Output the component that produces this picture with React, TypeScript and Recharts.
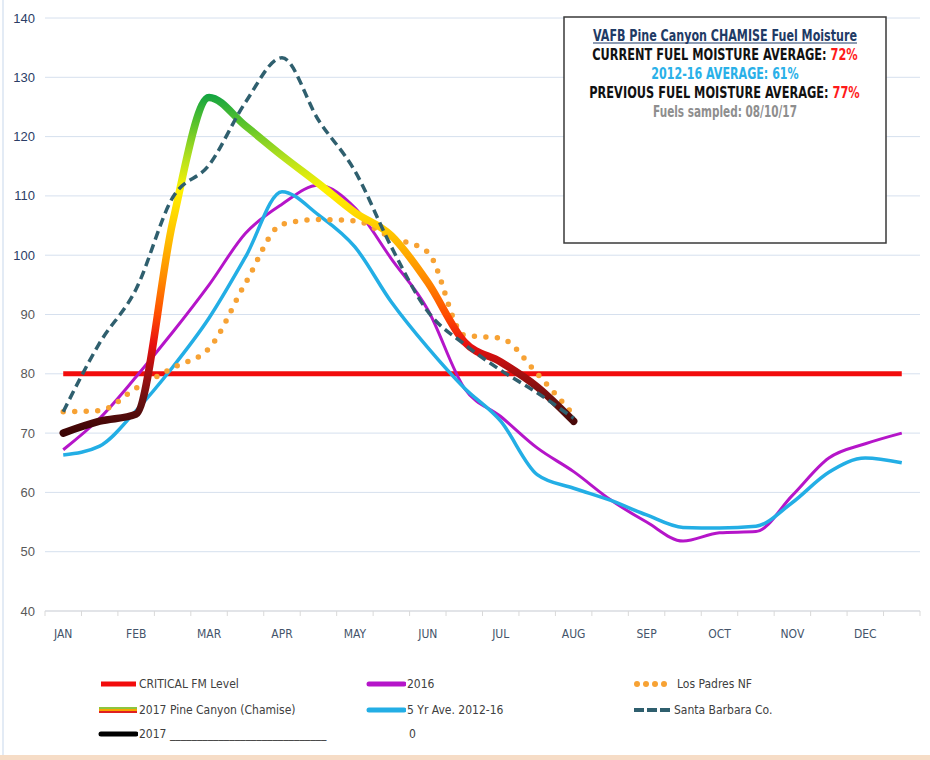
import { useLayoutEffect, useRef, useState } from 'react'
import { LineChart, Line, XAxis, YAxis, CartesianGrid, Legend } from 'recharts'

// half-month steps, JAN .. DEC (24 points)
const months = ['JAN', 'FEB', 'MAR', 'APR', 'MAY', 'JUN', 'JUL', 'AUG', 'SEP', 'OCT', 'NOV', 'DEC']
const yTicks = [40, 50, 60, 70, 80, 90, 100, 110, 120, 130, 140]

const criticalFm = [80, 80, 80, 80, 80, 80, 80, 80, 80, 80, 80, 80, 80, 80, 80, 80, 80, 80, 80, 80, 80, 80, 80, 80]
const year2016 = [67.2, 72.5, 79.5, 87, 95, 103.7, 108.6, 111.8, 108, 99.4, 90.8, 77.6, 72.8, 67.5, 63.5, 58.8, 55, 51.8, 53.2, 53.4, 59.5, 65.8, 68.2, 70]
const fiveYrAvg = [66.3, 67.8, 73.8, 81.1, 89.4, 99.7, 110.7, 106.8, 101.4, 92.1, 84.4, 77.6, 72, 63, 60.7, 58.7, 56.2, 54.1, 54, 54.3, 58.3, 63.4, 65.8, 65]
const losPadres = [73.6, 73.8, 77.6, 81, 84.3, 95.3, 105.2, 106, 105.8, 103, 100.5, 86.5, 86, 80, 73]
const santaBarbara = [73.6, 85.2, 94.3, 109.7, 115.2, 125.8, 133.3, 122.8, 114.2, 101.4, 90.5, 85, 80.6, 76.8, 72.5]
const pine2017 = [70, 72, 73.2, 105.5, 126.6, 121.8, 116.8, 112.1, 107.2, 103.3, 95.4, 85.4, 82, 77.8, 72]

const chartData = criticalFm.map((c, i) => ({
  idx: i,
  critical: c,
  y2016: year2016[i],
  avg5: fiveYrAvg[i],
  losPadres: losPadres[i] ?? null,
  santaBarbara: santaBarbara[i] ?? null,
  pine: pine2017[i] ?? null,
}))

const W = 930
const H = 760
const TOP = 18
const LEFT = 45
const RIGHT = 10
const PLOT_W = W - LEFT - RIGHT
const PLOT_H = 593
const STEP = PLOT_W / 24

const NARROW = '"Liberation Sans Narrow", "Arial Narrow", "DejaVu Sans Condensed", Arial, sans-serif'

const yPix = (v: number) => TOP + ((140 - v) * PLOT_H) / 100

// colour ramp of the 2017 line, by value
const pineStops: [number, string][] = [
  [127, '#14a441'],
  [122, '#5cc42b'],
  [116, '#b8e21c'],
  [111, '#fff200'],
  [103, '#ffc000'],
  [96, '#ff8a00'],
  [90, '#ff4d00'],
  [85, '#e81010'],
  [80, '#a51010'],
  [75, '#621010'],
  [70, '#3c0505'],
]

function MonthTick(props: any) {
  const { x, y, payload } = props
  const i = payload.value as number
  return (
    <g>
      <line x1={x - STEP / 2} x2={x - STEP / 2} y1={y - 8} y2={y - 3} stroke="#d9d9d9" />
      {i === 23 && <line x1={x + STEP / 2} x2={x + STEP / 2} y1={y - 8} y2={y - 3} stroke="#d9d9d9" />}
      {i % 2 === 0 && (
        <text x={x} y={y} dy={19} textAnchor="middle" fill="#44546a" fontSize={12} fontFamily={NARROW}>
          {months[i / 2]}
        </text>
      )}
    </g>
  )
}

function ValueTick(props: any) {
  const { x, y, payload } = props
  return (
    <text x={x} y={y} dy={4.5} textAnchor="end" fill={payload.value >= 100 ? '#2b3d66' : '#595959'} fontSize={13} fontFamily="Arial, sans-serif">
      {payload.value}
    </text>
  )
}

type LegendKind = 'critical' | 'y2016' | 'losPadres' | 'pine' | 'avg5' | 'santaBarbara' | 'y2017' | 'none'
const legendItems: { label: string; kind: LegendKind; col: number; row: number }[] = [
  { label: 'CRITICAL FM Level', kind: 'critical', col: 0, row: 0 },
  { label: '2016', kind: 'y2016', col: 1, row: 0 },
  { label: 'Los Padres NF', kind: 'losPadres', col: 2, row: 0 },
  { label: '2017 Pine Canyon (Chamise)', kind: 'pine', col: 0, row: 1 },
  { label: '5 Yr Ave. 2012-16', kind: 'avg5', col: 1, row: 1 },
  { label: 'Santa Barbara Co.', kind: 'santaBarbara', col: 2, row: 1 },
  { label: '2017 _____________________________', kind: 'y2017', col: 0, row: 2 },
  { label: '0', kind: 'none', col: 1, row: 2 },
]
const legendCols = [98, 366, 633]
const legendRows = [12, 38, 62]

function Marker({ kind }: { kind: LegendKind }) {
  if (kind === 'none') return null
  if (kind === 'pine')
    return (
      <svg width={40} height={10}>
        <rect x={1} y={2} width={38} height={2} fill="#8dc63f" />
        <rect x={1} y={4} width={38} height={2} fill="#f7a600" />
        <rect x={1} y={6} width={38} height={2} fill="#e02020" />
      </svg>
    )
  if (kind === 'losPadres')
    return (
      <svg width={40} height={10}>
        {[4, 13, 22, 31].map((cx) => (
          <circle key={cx} cx={cx} cy={5} r={3} fill="#f7a234" />
        ))}
      </svg>
    )
  if (kind === 'santaBarbara')
    return (
      <svg width={40} height={10}>
        <line x1={1} x2={40} y1={5} y2={5} stroke="#2f5f6e" strokeWidth={4} strokeDasharray="10 3" />
      </svg>
    )
  const color = { critical: '#f20c0c', y2016: '#b515c9', avg5: '#23aee5', y2017: '#000000' }[kind]
  return (
    <svg width={40} height={10}>
      <line x1={3} x2={38} y1={5} y2={5} stroke={color} strokeWidth={5} strokeLinecap={kind === 'critical' ? 'butt' : 'round'} />
    </svg>
  )
}

function renderLegend() {
  return (
    <div style={{ position: 'relative', width: W, height: 80 }}>
      {legendItems.map((it) => (
        <div
          key={it.label}
          style={{
            position: 'absolute',
            left: legendCols[it.col],
            top: legendRows[it.row] - 7,
            display: 'flex',
            alignItems: 'center',
            height: 14,
            fontFamily: NARROW,
            fontSize: 12,
            color: '#404040',
            whiteSpace: 'pre',
          }}
        >
          {it.kind === 'none' ? <span style={{ width: 42 }} /> : <Marker kind={it.kind} />}
          <span style={{ marginLeft: it.kind === 'losPadres' ? 4 : 1 }}>{it.label}</span>
        </div>
      ))}
    </div>
  )
}

// one centred line of the info box, squeezed horizontally to the width it has in the picture
function FitLine({ cx, y, width, fill, children }: { cx: number; y: number; width: number; fill: string; children: any }) {
  const ref = useRef<SVGTextElement>(null)
  const [sx, setSx] = useState(1)
  useLayoutEffect(() => {
    if (ref.current) {
      const w = ref.current.getBBox().width
      if (w > 0) setSx(width / w)
    }
  }, [width])
  return (
    <g transform={`translate(${cx} ${y}) scale(${sx} 1)`}>
      <text ref={ref} x={0} y={0} textAnchor="middle" fontFamily={NARROW} fontWeight="bold" fontSize={15} fill={fill}>
        {children}
      </text>
    </g>
  )
}

function InfoBox() {
  return (
    <svg width={W} height={H} style={{ position: 'absolute', left: 0, top: 0, pointerEvents: 'none' }}>
      <rect x={564} y={17} width={322} height={226} fill="#ffffff" stroke="#3a3a3a" strokeWidth={1.5} />
      <FitLine cx={725} y={41} width={264} fill="#1f3b66">
        VAFB Pine Canyon CHAMISE Fuel Moisture
      </FitLine>
      <line x1={593} x2={857} y1={43} y2={43} stroke="#1f3b66" strokeWidth={1.2} />
      <FitLine cx={725} y={60} width={266} fill="#111111">
        CURRENT FUEL MOISTURE AVERAGE: <tspan fill="#ff1a1a">72%</tspan>
      </FitLine>
      <FitLine cx={725} y={79} width={148} fill="#29b0e8">
        2012-16 AVERAGE: 61%
      </FitLine>
      <FitLine cx={724.5} y={98} width={271} fill="#111111">
        PREVIOUS FUEL MOISTURE AVERAGE: <tspan fill="#ff1a1a">77%</tspan>
      </FitLine>
      <FitLine cx={725} y={117} width={144} fill="#8e8e8e">
        Fuels sampled: 08/10/17
      </FitLine>
    </svg>
  )
}

export default function App() {
  return (
    <div style={{ position: 'absolute', left: 0, top: 0, width: W, height: H, background: '#ffffff', overflow: 'hidden' }}>
      <LineChart width={W} height={H} data={chartData} margin={{ top: TOP, right: RIGHT, bottom: 119, left: 0 }}>
        <defs>
          <linearGradient id="pineGrad" gradientUnits="userSpaceOnUse" x1={0} y1={yPix(127)} x2={0} y2={yPix(70)}>
            {pineStops.map(([v, c]) => (
              <stop key={v} offset={(127 - v) / 57} stopColor={c} />
            ))}
          </linearGradient>
        </defs>
        <CartesianGrid vertical={false} stroke="#d6e0ee" strokeWidth={1} />
        <XAxis
          dataKey="idx"
          type="number"
          domain={[-0.5, 23.5]}
          ticks={chartData.map((d) => d.idx)}
          interval={0}
          height={30}
          tickLine={false}
          tick={<MonthTick />}
          stroke="#d9d9d9"
        />
        <YAxis domain={[40, 140]} ticks={yTicks} width={LEFT} axisLine={false} tickLine={false} tickMargin={4} tick={<ValueTick />} />
        <Legend layout="vertical" verticalAlign="middle" align="center" content={renderLegend} wrapperStyle={{ position: 'absolute', left: 0, top: 672, width: W, height: 80 }} />
        <Line dataKey="critical" type="linear" stroke="#f20c0c" strokeWidth={5} dot={false} isAnimationActive={false} />
        <Line dataKey="y2016" type="monotone" stroke="#b515c9" strokeWidth={3} dot={false} isAnimationActive={false} />
        <Line dataKey="avg5" type="monotone" stroke="#23aee5" strokeWidth={3.5} dot={false} isAnimationActive={false} />
        <Line dataKey="losPadres" type="monotone" stroke="#f7a234" strokeWidth={5.5} strokeDasharray="0 11.5" strokeLinecap="round" dot={false} connectNulls={false} isAnimationActive={false} />
        <Line dataKey="pine" type="monotone" stroke="url(#pineGrad)" strokeWidth={7.5} strokeLinecap="round" dot={false} isAnimationActive={false} />
        <Line dataKey="santaBarbara" type="monotone" stroke="#2f5f6e" strokeWidth={3.5} strokeDasharray="9 5" dot={false} isAnimationActive={false} />
      </LineChart>
      <InfoBox />
      <div style={{ position: 'absolute', left: 2, top: 0, width: 2, height: H, background: '#e3ebf5' }} />
      <div style={{ position: 'absolute', left: 0, top: 755, width: W, height: 5, background: '#f6dcc6' }} />
    </div>
  )
}
